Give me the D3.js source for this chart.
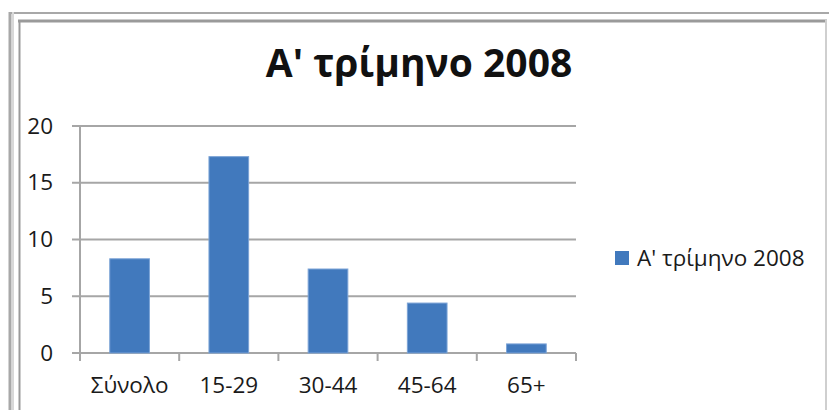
<!DOCTYPE html>
<html>
<head>
<meta charset="utf-8">
<script src="https://cdn.jsdelivr.net/npm/d3@7"></script>
<style>
  body { margin: 0; background: #fff; }
  svg { display: block; }
</style>
</head>
<body>
<div id="chart"></div>
<script>
var categories = ["Σύνολο", "15-29", "30-44", "45-64", "65+"];
var values = [8.3, 17.3, 7.4, 4.4, 0.8];
var yTicks = [0, 5, 10, 15, 20];
var seriesName = "A' τρίμηνο 2008";
var title = "A' τρίμηνο 2008";

var W = 829, H = 410;
var font = "'Open Sans', 'Noto Sans', sans-serif";

var svg = d3.select("#chart").append("svg")
    .attr("width", W)
    .attr("height", H);

// frame (two borders, cut off at right/bottom)
svg.append("rect").attr("x", 0).attr("y", 0).attr("width", W).attr("height", H).style("fill", "#fff");
svg.append("line").attr("x1", 9).attr("x2", W).attr("y1", 13).attr("y2", 13)
    .style("stroke", "#a8a8a8").style("stroke-width", 2);
svg.append("line").attr("x1", 10).attr("x2", 10).attr("y1", 12).attr("y2", H)
    .style("stroke", "#a8a8a8").style("stroke-width", 3);
svg.append("line").attr("x1", 13).attr("x2", 13).attr("y1", 12).attr("y2", H)
    .style("stroke", "#d8d8d8").style("stroke-width", 2);
svg.append("line").attr("x1", 18).attr("x2", 827).attr("y1", 21).attr("y2", 21)
    .style("stroke", "#9a9a9a").style("stroke-width", 3);
svg.append("line").attr("x1", 19.5).attr("x2", 19.5).attr("y1", 20).attr("y2", H)
    .style("stroke", "#9a9a9a").style("stroke-width", 2);
svg.append("line").attr("x1", 826).attr("x2", 826).attr("y1", 20).attr("y2", H)
    .style("stroke", "#cfcfcf").style("stroke-width", 2);

var margin = {left: 80, right: 253, top: 126, bottom: 57};
var plotW = W - margin.left - margin.right;
var plotH = H - margin.top - margin.bottom;

var x = d3.scaleBand()
    .domain(categories)
    .range([margin.left, margin.left + plotW]);
var y = d3.scaleLinear()
    .domain([0, 20])
    .range([margin.top + plotH, margin.top]);

// gridlines
svg.append("g").attr("class", "grid")
    .selectAll("line")
    .data(yTicks)
    .enter()
    .append("line")
    .attr("x1", margin.left - 8)
    .attr("x2", margin.left + plotW)
    .attr("y1", function(d){ return y(d); })
    .attr("y2", function(d){ return y(d); })
    .style("stroke", "#a6a6a6")
    .style("stroke-width", 2);

// bars
var barW = x.bandwidth() * 0.4;
svg.append("g").attr("class", "bars")
    .selectAll("rect")
    .data(values)
    .enter()
    .append("rect")
    .attr("x", function(d, i){ return x(categories[i]) + (x.bandwidth() - barW) / 2; })
    .attr("y", function(d){ return y(d); })
    .attr("width", barW)
    .attr("height", function(d){ return y(0) - y(d); })
    .style("fill", "#4179bd")
    .style("stroke", "#7ba3d6")
    .style("stroke-width", 1);

// y axis line
svg.append("line")
    .attr("x1", margin.left).attr("x2", margin.left)
    .attr("y1", y(20) - 1).attr("y2", y(0) + 8)
    .style("stroke", "#a6a6a6").style("stroke-width", 2);

// x axis tick marks at category boundaries
var bounds = categories.map(function(c){ return x(c); }).concat([margin.left + plotW]);
svg.append("g").attr("class", "xticks")
    .selectAll("line")
    .data(bounds)
    .enter()
    .append("line")
    .attr("x1", function(d){ return d; })
    .attr("x2", function(d){ return d; })
    .attr("y1", y(0))
    .attr("y2", y(0) + 8)
    .style("stroke", "#a6a6a6").style("stroke-width", 2);

// y labels
var yAxis = svg.append("g")
    .attr("transform", "translate(" + margin.left + ",0)")
    .call(d3.axisLeft(y).tickValues(yTicks).tickSize(0).tickPadding(27));
yAxis.select(".domain").remove();
yAxis.selectAll("text")
    .style("font-family", font)
    .style("font-size", "22.5px")
    .style("fill", "#1a1a1a");

// x labels
var xAxis = svg.append("g")
    .attr("transform", "translate(0," + y(0) + ")")
    .call(d3.axisBottom(x).tickSize(0).tickPadding(24));
xAxis.select(".domain").remove();
xAxis.selectAll("text")
    .style("font-family", font)
    .style("font-size", "22.5px")
    .style("fill", "#1a1a1a");

// title
svg.append("text")
    .attr("x", 419)
    .attr("y", 77)
    .attr("text-anchor", "middle")
    .style("font-family", font)
    .style("font-weight", "bold")
    .style("font-size", "39px")
    .style("fill", "#111")
    .text(title);

// legend
var legend = svg.append("g").attr("transform", "translate(615,251)");
legend.append("rect")
    .attr("width", 14).attr("height", 14)
    .style("fill", "#4179bd");
legend.append("text")
    .attr("x", 22).attr("y", 14.5)
    .style("font-family", font)
    .style("font-size", "22.5px")
    .style("fill", "#1a1a1a")
    .text(seriesName);
</script>
</body>
</html>
